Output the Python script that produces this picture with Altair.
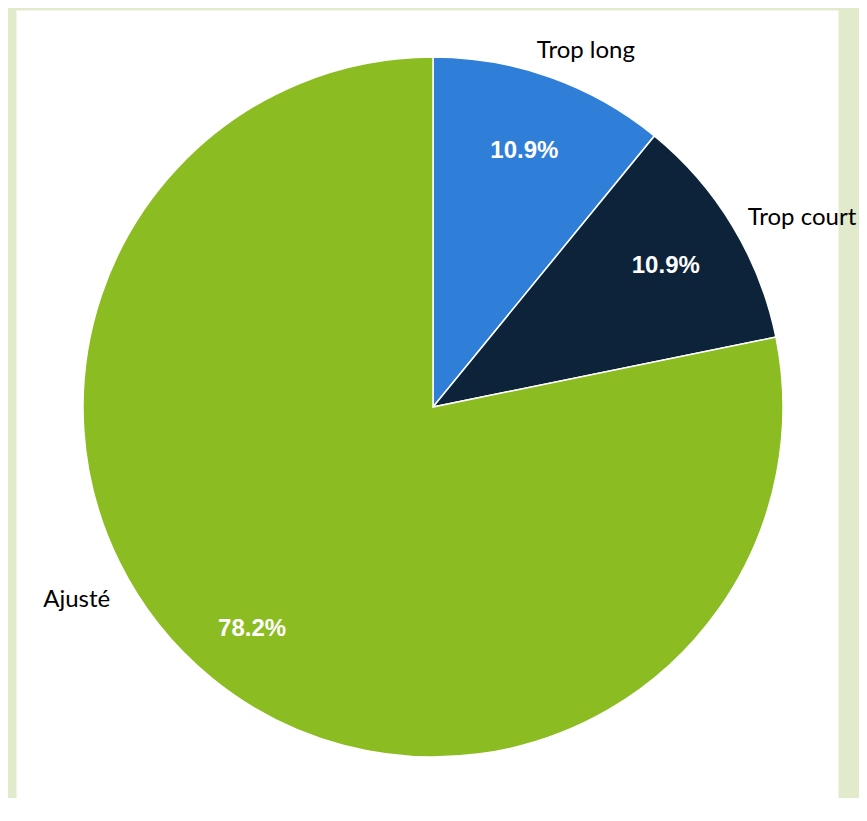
import altair as alt
import pandas as pd

categories = ["Trop long", "Trop court", "Ajusté"]
values = [10.9, 10.9, 78.2]
colors = ["#2f7ed8", "#0d233a", "#8bbc21"]

df = pd.DataFrame({"cat": categories, "v": values, "o": list(range(len(categories)))})

CX, CY = 417, 397

base = alt.Chart(df).encode(
    theta=alt.Theta("v:Q", stack=True),
    order=alt.Order("o:Q"),
    x=alt.value(CX),
    y=alt.value(CY),
).transform_calculate(pct="format(datum.v, '.1f') + '%'")

pie = base.mark_arc(radius=350, stroke="white", strokeWidth=1.5).encode(
    color=alt.Color("cat:N", scale=alt.Scale(domain=categories, range=colors), legend=None)
)

pct_font = dict(font="Liberation Sans", fontSize=24, fontWeight="bold", color="white",
                align="center", baseline="middle")

pct_small = base.transform_calculate(lab="datum.o < 2 ? datum.pct : ''").mark_text(
    radius=272, **pct_font).encode(text="lab:N")
pct_big = base.transform_calculate(lab="datum.o == 2 ? datum.pct : ''").mark_text(
    radius=286, **pct_font).encode(text="lab:N")

name_font = dict(font="Lato", fontSize=24, color="black", baseline="middle")

lab_long = base.transform_calculate(lab="datum.o == 0 ? datum.cat : ''").mark_text(
    radius=378, dx=26, align="center", **name_font).encode(text="lab:N")
lab_court = base.transform_calculate(lab="datum.o == 1 ? datum.cat : ''").mark_text(
    radius=370, dx=-2, dy=2, align="left", **name_font).encode(text="lab:N")
lab_adj = base.transform_calculate(lab="datum.o == 2 ? datum.cat : ''").mark_text(
    radius=376, dx=-85, dy=-98, align="right", **name_font).encode(text="lab:N")

chart = alt.layer(pie, pct_small, pct_big, lab_long, lab_court, lab_adj).properties(
    width=822,
    height=788,
    autosize=alt.AutoSizeParams(type="none"),
    padding={"left": 8, "top": 2, "right": 21, "bottom": 0},
    background="#e2eacc",
).configure_view(fill="white", stroke="transparent")

chart.save("out.html", embed_options={"renderer": "svg", "actions": False})
